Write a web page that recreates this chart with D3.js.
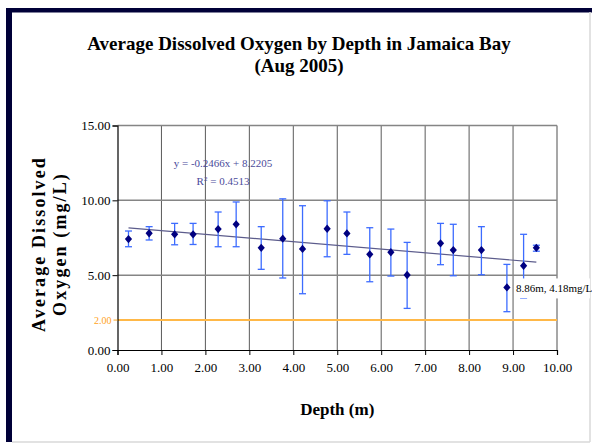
<!DOCTYPE html>
<html>
<head>
<meta charset="utf-8">
<script src="https://cdn.jsdelivr.net/npm/d3@7"></script>
<style>
    body { margin: 0; background: #fff; }
    svg text { font-family: "Liberation Serif", "Times New Roman", serif; }
</style>
</head>
<body>
<div id="chart"></div>
<script>
// Depth (m) and mean dissolved oxygen (mg/L)
const depth = [0.25, 0.72, 1.30, 1.72, 2.29, 2.70, 3.27, 3.76, 4.21, 4.77,
               5.22, 5.74, 6.22, 6.59, 7.35, 7.64, 8.28, 8.86, 9.24, 9.53];
const meanDO = [7.41, 7.80, 7.73, 7.73, 8.08, 8.40, 6.83, 7.44, 6.75, 8.10,
                7.79, 6.39, 6.53, 5.01, 7.13, 6.68, 6.68, 4.18, 5.63, 6.83];
// error bar ends
const errHigh = [7.95, 8.24, 8.46, 8.46, 9.22, 9.89, 8.24, 10.10, 9.64, 9.97,
                 9.22, 8.17, 8.08, 7.19, 8.46, 8.40, 8.24, 5.72, 7.73, 7.00];
const errLow = [6.90, 7.35, 7.03, 7.05, 6.90, 6.90, 5.39, 4.81, 3.76, 6.23,
                6.39, 4.56, 4.94, 2.78, 5.70, 4.96, 5.03, 2.56, 3.45, 6.60];

const xTicks = [0, 1, 2, 3, 4, 5, 6, 7, 8, 9, 10];
const yTicks = [0, 5, 10, 15];
const threshold = 2;
const trend = { slope: -0.2466, intercept: 8.2205, r2: 0.4513 };
const callout = { index: 17, text: "8.86m, 4.18mg/L" };

const width = 592, height = 444;

const svg = d3.select('#chart').append('svg')
    .attr('width', width)
    .attr('height', height);

// chart frame
svg.append('rect').attr('x', 6).attr('y', 8).attr('width', 6).attr('height', 434).attr('fill', '#000038');
svg.append('rect').attr('x', 6).attr('y', 8).attr('width', 586).attr('height', 4.5).attr('fill', '#000038');
svg.append('line').attr('x1', 590).attr('x2', 590).attr('y1', 12).attr('y2', 442)
    .attr('stroke', '#d8d8d8').attr('stroke-width', 1.5);
svg.append('line').attr('x1', 12).attr('x2', 590).attr('y1', 442).attr('y2', 442)
    .attr('stroke', '#d8d8d8').attr('stroke-width', 1.5);

const xScale = d3.scaleLinear().domain([0, 10]).range([117.5, 557]);
const yScale = d3.scaleLinear().domain([0, 15]).range([350, 125.5]);

// gridlines
svg.append('g').selectAll('line')
    .data(xTicks.slice(1))
    .join('line')
    .attr('x1', d => xScale(d)).attr('x2', d => xScale(d))
    .attr('y1', yScale(15)).attr('y2', yScale(0))
    .attr('stroke', d => d === 10 ? '#8a8a8a' : '#5a5a5a')
    .attr('stroke-width', d => d === 10 ? 1.5 : 1);

svg.append('g').selectAll('line')
    .data(yTicks.slice(1))
    .join('line')
    .attr('x1', xScale(0)).attr('x2', xScale(10))
    .attr('y1', d => yScale(d)).attr('y2', d => yScale(d))
    .attr('stroke', '#858585')
    .attr('stroke-width', 1.5);

// 2 mg/L line
svg.append('line')
    .attr('x1', xScale(0)).attr('x2', xScale(10))
    .attr('y1', yScale(threshold)).attr('y2', yScale(threshold))
    .attr('stroke', '#ffb848').attr('stroke-width', 2);

// axes
const xAxis = d3.axisBottom(xScale).tickValues(xTicks).tickFormat(d3.format('.2f')).tickSize(5).tickPadding(8);
const gx = svg.append('g').attr('transform', `translate(0, ${yScale(0)})`).call(xAxis);
gx.select('.domain').attr('stroke', '#000').attr('stroke-width', 1.2);
gx.selectAll('.tick line').attr('stroke', '#000');
gx.selectAll('.tick text').attr('fill', '#000').style('font-size', '13px')
    .style('font-family', '"Liberation Serif", serif');

const yAxis = d3.axisLeft(yScale).tickValues(yTicks).tickFormat(d3.format('.2f')).tickSize(5).tickPadding(2);
const gy = svg.append('g').attr('transform', `translate(${xScale(0)}, 0)`).call(yAxis);
gy.select('.domain').attr('stroke', '#000').attr('stroke-width', 1.2);
gy.selectAll('.tick line').attr('stroke', '#000');
gy.selectAll('.tick text').attr('fill', '#000').style('font-size', '13px')
    .style('font-family', '"Liberation Serif", serif');

// orange 2.00 tick label
svg.append('line')
    .attr('x1', xScale(0) - 4).attr('x2', xScale(0))
    .attr('y1', yScale(threshold)).attr('y2', yScale(threshold))
    .attr('stroke', '#ffa726');
svg.append('text')
    .attr('x', xScale(0) - 6).attr('y', yScale(threshold))
    .attr('dy', '0.35em')
    .attr('text-anchor', 'end')
    .attr('fill', '#ffa31a')
    .style('font-size', '10px')
    .text(d3.format('.2f')(threshold));

// trend line over the data range
const xExtent = d3.extent(depth);
svg.append('line')
    .attr('x1', xScale(xExtent[0])).attr('y1', yScale(trend.slope * xExtent[0] + trend.intercept))
    .attr('x2', xScale(xExtent[1])).attr('y2', yScale(trend.slope * xExtent[1] + trend.intercept))
    .attr('stroke', '#5c5c8c').attr('stroke-width', 1.2);

// error bars
const bars = svg.append('g')
    .attr('stroke', '#3d6cff')
    .attr('stroke-width', 1.3);
bars.append('g').selectAll('line')
    .data(depth)
    .join('line')
    .attr('x1', d => xScale(d)).attr('x2', d => xScale(d))
    .attr('y1', (d, i) => yScale(errHigh[i])).attr('y2', (d, i) => yScale(errLow[i]));
bars.append('g').selectAll('line')
    .data(depth)
    .join('line')
    .attr('x1', d => xScale(d) - 3.5).attr('x2', d => xScale(d) + 3.5)
    .attr('y1', (d, i) => yScale(errHigh[i])).attr('y2', (d, i) => yScale(errHigh[i]));
bars.append('g').selectAll('line')
    .data(depth)
    .join('line')
    .attr('x1', d => xScale(d) - 3.5).attr('x2', d => xScale(d) + 3.5)
    .attr('y1', (d, i) => yScale(errLow[i])).attr('y2', (d, i) => yScale(errLow[i]));

// data label with white box
const lx = xScale(depth[callout.index]) + 9;
const ly = yScale(meanDO[callout.index]) + 2;
svg.append('rect')
    .attr('x', lx - 1).attr('y', ly - 11)
    .attr('width', 75).attr('height', 20)
    .attr('fill', '#fff');
svg.append('text')
    .attr('x', lx).attr('y', ly + 3)
    .attr('fill', '#000')
    .style('font-size', '11px')
    .text(callout.text);

// markers (diamonds)
svg.append('g').selectAll('path')
    .data(depth)
    .join('path')
    .attr('transform', (d, i) => `translate(${xScale(d)}, ${yScale(meanDO[i])}) scale(1, 1.15) rotate(45)`)
    .attr('d', d3.symbol(d3.symbolSquare, 26))
    .attr('fill', '#000080');

// trend equation
const eq = svg.append('text')
    .attr('x', 223).attr('text-anchor', 'middle')
    .attr('fill', '#4b4b9b')
    .style('font-size', '11px');
eq.append('tspan').attr('x', 223).attr('y', 166.5)
    .text(`y = ${trend.slope}x + ${trend.intercept}`);
const r2 = eq.append('tspan').attr('x', 223).attr('y', 185);
r2.append('tspan').text('R');
r2.append('tspan').attr('dy', -4).style('font-size', '7px').text('2');
r2.append('tspan').attr('dy', 4).text(` = ${trend.r2}`);

// titles
svg.append('text')
    .attr('x', 299).attr('y', 50)
    .attr('text-anchor', 'middle')
    .style('font-size', '19px').style('font-weight', 'bold')
    .text('Average Dissolved Oxygen by Depth in Jamaica Bay');
svg.append('text')
    .attr('x', 299).attr('y', 72)
    .attr('text-anchor', 'middle')
    .style('font-size', '19px').style('font-weight', 'bold')
    .text('(Aug 2005)');

svg.append('text')
    .attr('x', (xScale(0) + xScale(10)) / 2).attr('y', 415)
    .attr('text-anchor', 'middle')
    .style('font-size', '17px').style('font-weight', 'bold')
    .text('Depth (m)');

const yTitle = svg.append('g').attr('transform', 'translate(45, 244) rotate(-90)');
yTitle.append('text')
    .attr('text-anchor', 'middle')
    .style('font-size', '18px').style('font-weight', 'bold').style('letter-spacing', '2.1px')
    .text('Average Dissolved');
yTitle.append('text')
    .attr('y', 21)
    .attr('text-anchor', 'middle')
    .style('font-size', '18px').style('font-weight', 'bold').style('letter-spacing', '2.1px')
    .text('Oxygen (mg/L)');
</script>
</body>
</html>
